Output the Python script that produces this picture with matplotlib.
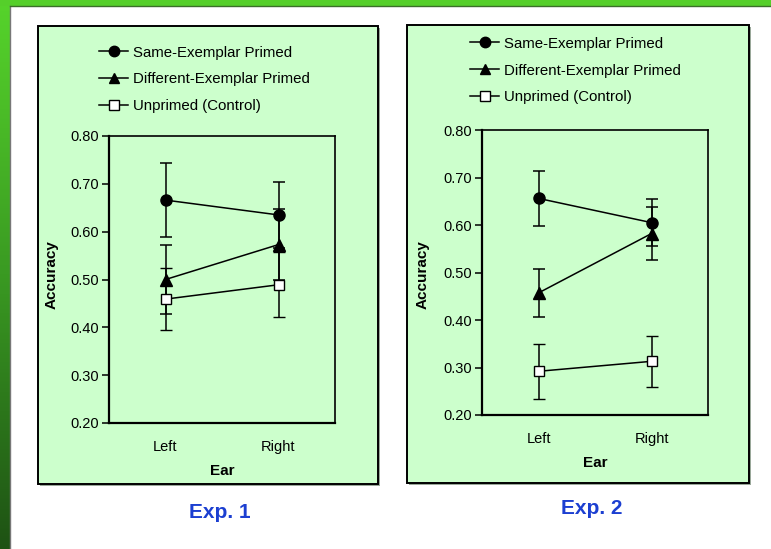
import numpy as np
import matplotlib
matplotlib.use("Agg")
import matplotlib.pyplot as plt
from matplotlib.patches import Rectangle
from matplotlib.lines import Line2D

plt.rcParams["font.family"] = ["Liberation Sans", "DejaVu Sans"]

# ===== data =====
ears = ["Left", "Right"]
series_names = ["Same-Exemplar Primed", "Different-Exemplar Primed", "Unprimed (Control)"]

exp1_same = [0.666, 0.635]
exp1_same_err = [0.077, 0.069]
exp1_diff = [0.500, 0.573]
exp1_diff_err = [0.073, 0.074]
exp1_unpr = [0.459, 0.489]
exp1_unpr_err = [0.065, 0.068]

exp2_same = [0.656, 0.605]
exp2_same_err = [0.058, 0.049]
exp2_diff = [0.457, 0.582]
exp2_diff_err = [0.050, 0.055]
exp2_unpr = [0.292, 0.313]
exp2_unpr_err = [0.058, 0.054]

yticks = [0.20, 0.30, 0.40, 0.50, 0.60, 0.70, 0.80]

W, H = 771, 549
fig = plt.figure(figsize=(W / 100, H / 100), dpi=100)
fig.patch.set_facecolor("white")


def fx(px):
    return px / W


def fy(py):
    return 1 - py / H


# ===== slide background: green frame on top and left =====
bg = fig.add_axes([0, 0, 1, 1], zorder=-10)
bg.set_xlim(0, W)
bg.set_ylim(H, 0)
bg.axis("off")
grad = np.linspace(0, 1, 256).reshape(-1, 1)
cmap = matplotlib.colors.LinearSegmentedColormap.from_list("g", ["#56d42b", "#3a9a22", "#1e5214"])
bg.imshow(grad, cmap=cmap, extent=(0, 9.5, H, 0), aspect="auto")
bg.add_patch(Rectangle((0, 0), W, 5.5, color="#55cf2a", lw=0))
bg.plot([9.8, 9.8], [5.5, H], color="#777777", lw=1)
bg.plot([9.8, W], [5.8, 5.8], color="#3c6e2a", lw=1)

# panel boxes
for (x0, y0, x1, y1) in [(38, 26, 378, 484), (407, 25, 749, 483)]:
    bg.add_patch(Rectangle((x0 + 1.5, y0 + 1.5), x1 - x0, y1 - y0, facecolor="#9aa89a", lw=0))
    bg.add_patch(Rectangle((x0, y0), x1 - x0, y1 - y0, facecolor="#ccffcc", edgecolor="black", lw=1.4))


def panel(rect, same, same_err, diff, diff_err, unpr, unpr_err, leg_xy, ylab_x, caption, cap_xy):
    x0, y0, x1, y1 = rect
    ax = fig.add_axes([fx(x0), fy(y1), fx(x1 - x0), (y1 - y0) / H])
    ax.set_facecolor("#ccffcc")
    x = np.arange(len(ears))
    kw = dict(color="black", lw=1.1, ecolor="black", elinewidth=1.1, capsize=4, capthick=1.1)
    ax.errorbar(x, same, yerr=same_err, marker="o", ms=8, mfc="black", mec="black", **kw)
    ax.errorbar(x, diff, yerr=diff_err, marker="^", ms=8, mfc="black", mec="black", **kw)
    ax.errorbar(x, unpr, yerr=unpr_err, marker="s", ms=7.5, mfc="white", mec="black", mew=1, **kw)
    ax.set_xlim(-0.5, 1.5)
    ax.set_ylim(0.20, 0.80)
    ax.set_yticks(yticks)
    ax.set_yticklabels([f"{v:.2f}" for v in yticks], fontsize=10.5)
    ax.set_xticks(x)
    ax.set_xticklabels(ears, fontsize=10.5)
    ax.tick_params(axis="x", length=0, pad=12.5)
    ax.tick_params(axis="y", length=5, width=1.1, direction="out", pad=2)
    for s in ax.spines.values():
        s.set_linewidth(1.2)
    ax.spines["left"].set_linewidth(1.6)
    ax.spines["bottom"].set_linewidth(1.6)
    ax.set_xlabel("Ear", fontsize=11, fontweight="bold", labelpad=7)
    ax.set_ylabel("Accuracy", fontsize=11, fontweight="bold")
    ax.yaxis.set_label_coords(fx(ylab_x), 0.5, transform=fig.transFigure)
    ax.yaxis.label.set_verticalalignment("center")

    handles = [
        Line2D([], [], color="black", lw=1.1, marker="o", ms=7.5, mfc="black"),
        Line2D([], [], color="black", lw=1.1, marker="^", ms=7.5, mfc="black"),
        Line2D([], [], color="black", lw=1.1, marker="s", ms=7, mfc="white", mec="black"),
    ]
    ax.legend(handles, series_names, loc="center left", bbox_to_anchor=(fx(leg_xy[0]), fy(leg_xy[1])),
              bbox_transform=fig.transFigure, frameon=False, fontsize=10.8, handlelength=1.95,
              handletextpad=0.3, labelspacing=0.86, borderpad=0, borderaxespad=0)
    fig.text(fx(cap_xy[0]), fy(cap_xy[1]), caption, color="#1c3fd1", fontsize=15, fontweight="bold",
             ha="center", va="center")
    return ax


panel((109, 136, 335, 423), exp1_same, exp1_same_err, exp1_diff, exp1_diff_err, exp1_unpr, exp1_unpr_err,
      (99, 79.5), 52, "Exp. 1", (220, 512))
panel((482, 130, 708, 415), exp2_same, exp2_same_err, exp2_diff, exp2_diff_err, exp2_unpr, exp2_unpr_err,
      (470, 70.5), 423, "Exp. 2", (592, 508))

fig.savefig("out.png", dpi=100)
